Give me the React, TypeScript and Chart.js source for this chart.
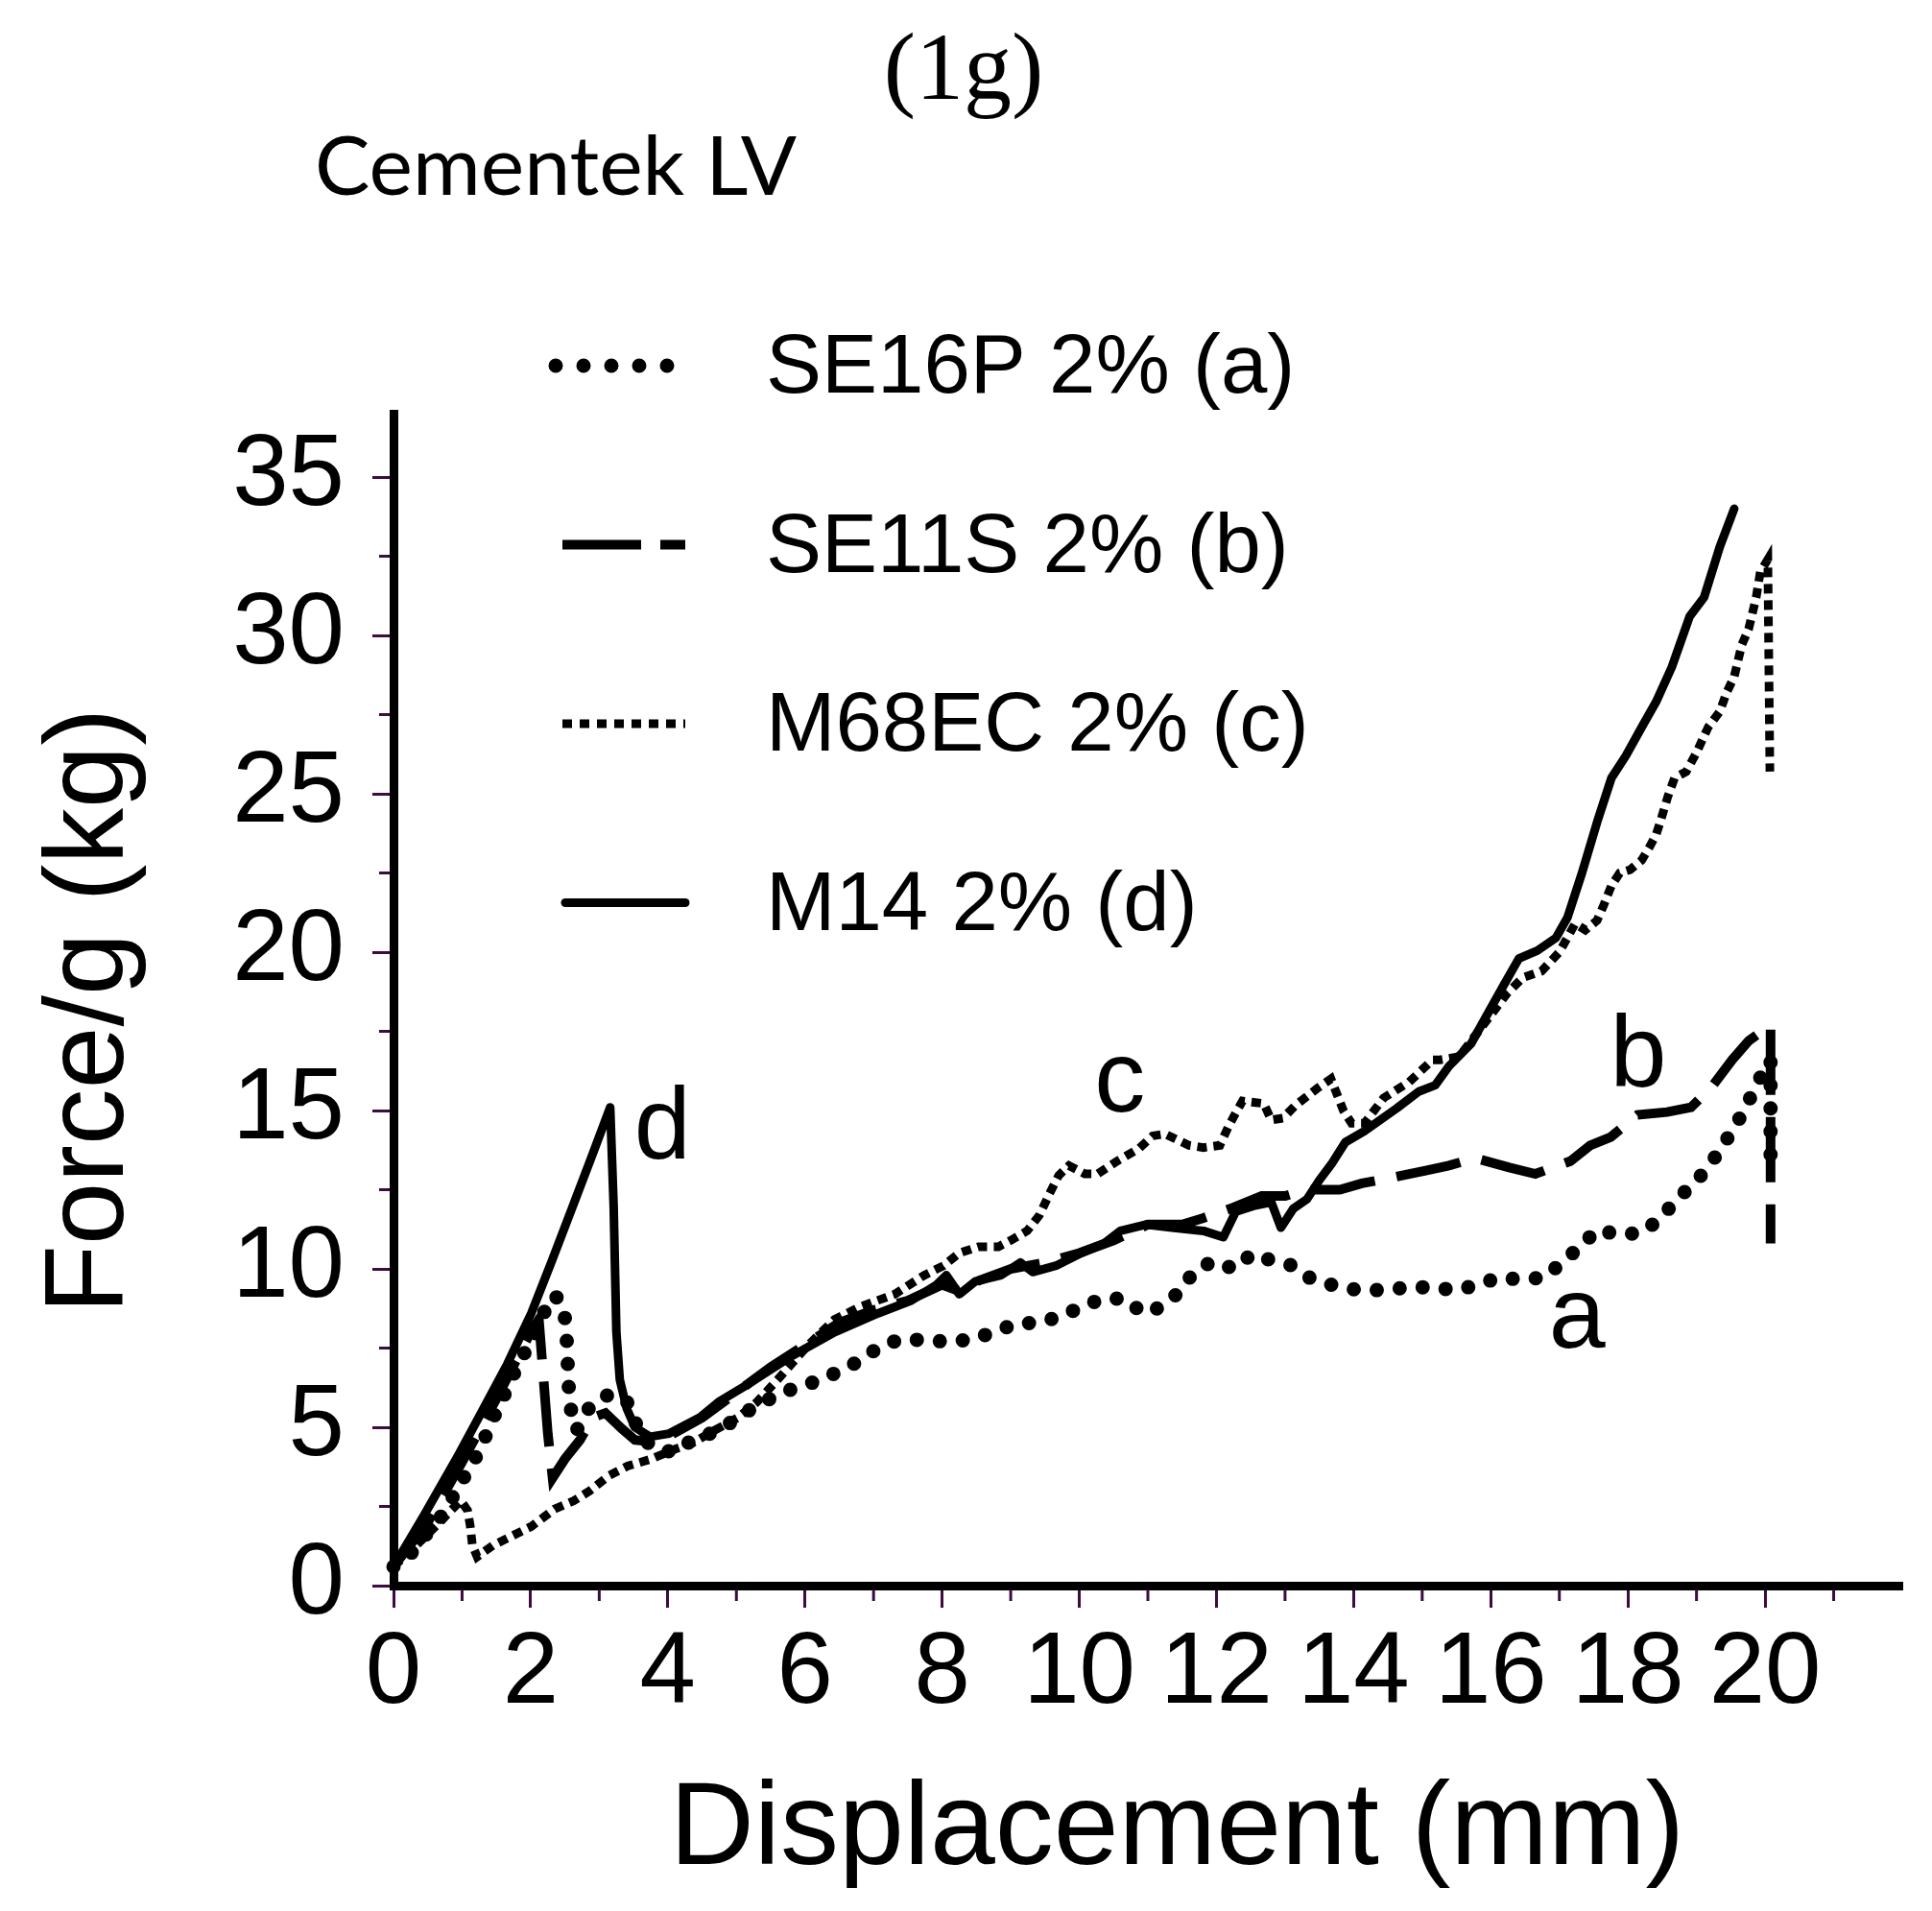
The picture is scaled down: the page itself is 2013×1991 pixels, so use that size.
import { useEffect, useRef } from "react"
import { Chart, registerables } from "chart.js"
import type { Plugin } from "chart.js"

Chart.register(...registerables)

// SE16P 2% (a) - round dots
const se16pX = [0, 0.25, 0.47, 0.7, 0.89, 1.05, 1.24, 1.38, 1.52, 1.69, 1.83, 2.07, 2.15, 2.35, 2.48, 2.52, 2.55, 2.57, 2.67, 2.85, 3.09, 3.3, 3.45, 3.56, 3.75, 4.08, 4.36, 4.68, 4.96, 5.23, 5.53, 5.86, 6.19, 6.5, 6.8, 7.06, 7.36, 7.71, 8.06, 8.41, 8.75, 9.07, 9.4, 9.73, 10.03, 10.34, 10.66, 10.93, 11.2, 11.49, 11.67, 11.95, 12.26, 12.52, 12.8, 13.12, 13.39, 13.71, 14.06, 14.44, 14.8, 15.15, 15.47, 15.8, 16.1, 16.43, 16.77, 17.03, 17.3, 17.55, 17.88, 18.2, 18.48, 18.71, 18.97, 19.2, 19.4, 19.59, 19.76, 19.92, 20.08, 20.08]
const se16pY = [0.6, 1.0, 1.6, 2.2, 2.9, 3.5, 4.2, 4.9, 5.6, 6.35, 7.07, 7.9, 8.46, 9.18, 8.8, 8.06, 6.5, 5.7, 4.9, 5.6, 6.0, 6.0, 5.7, 4.95, 4.4, 4.2, 4.6, 4.85, 5.2, 5.6, 5.95, 6.25, 6.46, 6.77, 7.1, 7.5, 7.76, 7.76, 7.7, 7.76, 8.0, 8.27, 8.3, 8.5, 8.8, 9.06, 9.06, 8.6, 8.8, 9.33, 9.93, 10.24, 10.0, 10.48, 10.27, 10.1, 9.67, 9.48, 9.33, 9.33, 9.42, 9.42, 9.33, 9.48, 9.72, 9.67, 9.72, 10.18, 10.7, 11.23, 11.08, 11.14, 11.6, 12.2, 12.7, 13.3, 13.95, 14.6, 15.3, 16.0, 16.6, 13.3]

// SE11S 2% (b) - long dashes
const se11sX = [0, 0.5, 1.0, 1.5, 2.0, 2.12, 2.25, 2.32, 2.5, 2.72, 2.9, 3.09, 3.33, 3.52, 3.75, 4.0, 4.5, 5.0, 5.5, 6.0, 6.5, 7.0, 7.5, 8.0, 8.25, 8.5, 9.0, 9.5, 10.0, 10.5, 11.0, 11.5, 11.8, 12.2, 12.66, 13.0, 13.3, 13.8, 14.12, 14.6, 15.05, 15.39, 15.77, 16.27, 16.65, 17.16, 17.45, 17.75, 18.14, 18.57, 18.92, 19.23, 19.52, 19.76, 20.08, 20.08]
const se11sY = [0.6, 2.0, 3.9, 5.9, 8.0, 8.4, 4.8, 3.4, 4.0, 4.6, 5.3, 5.45, 4.95, 4.6, 4.55, 4.7, 5.3, 6.1, 6.9, 7.6, 8.3, 8.7, 9.0, 9.5, 9.3, 9.6, 10.0, 10.2, 10.5, 10.9, 11.4, 11.4, 11.6, 11.9, 12.3, 12.3, 12.5, 12.5, 12.7, 12.9, 13.1, 13.26, 13.5, 13.2, 13.0, 13.4, 13.9, 14.16, 14.86, 14.95, 15.1, 15.77, 16.6, 17.2, 17.7, 10.8]

// M68EC 2% (c) - small square dots
const m68ecX = [0, 0.33, 0.66, 0.84, 0.98, 1.08, 1.12, 1.15, 1.22, 1.45, 1.73, 2.01, 2.35, 2.63, 2.86, 3.14, 3.42, 3.75, 4.08, 4.36, 4.68, 5.02, 5.3, 5.6, 6.05, 6.43, 6.8, 7.31, 7.74, 8.02, 8.25, 8.53, 8.82, 9.0, 9.24, 9.42, 9.56, 9.7, 9.85, 10.08, 10.27, 10.55, 10.87, 11.07, 11.25, 11.6, 11.81, 12.05, 12.17, 12.28, 12.38, 12.69, 12.8, 12.97, 13.15, 13.47, 13.67, 13.76, 13.85, 13.97, 14.16, 14.44, 14.81, 15.15, 15.26, 15.54, 15.82, 16.24, 16.47, 16.74, 17.0, 17.23, 17.38, 17.55, 17.65, 17.76, 17.88, 18.03, 18.2, 18.31, 18.41, 18.47, 18.58, 18.68, 18.85, 19.0, 19.17, 19.34, 19.44, 19.55, 19.66, 19.76, 19.87, 19.93, 20.04, 20.07]
const m68ecY = [0.6, 1.27, 1.97, 2.38, 2.68, 2.38, 1.87, 1.27, 0.91, 1.27, 1.57, 1.87, 2.42, 2.68, 2.99, 3.47, 3.78, 3.99, 4.29, 4.5, 4.9, 5.3, 5.8, 6.5, 7.6, 8.4, 8.8, 9.2, 9.8, 10.1, 10.5, 10.7, 10.7, 10.9, 11.2, 11.7, 12.35, 12.95, 13.26, 13.0, 13.0, 13.4, 13.8, 14.2, 14.26, 13.9, 13.83, 13.9, 14.47, 14.92, 15.3, 15.22, 14.7, 14.76, 15.16, 15.7, 16.0, 15.5, 15.0, 14.6, 14.6, 15.4, 15.9, 16.6, 16.6, 16.7, 17.5, 18.7, 19.2, 19.4, 20.0, 20.9, 20.7, 21.0, 21.5, 22.1, 22.5, 22.6, 22.9, 23.3, 23.7, 24.1, 24.9, 25.5, 25.7, 26.3, 27.1, 27.6, 28.2, 28.7, 29.7, 30.2, 31.2, 32.0, 32.4, 25.7]

// M14 2% (d) - solid
const m14X = [0, 0.44, 0.94, 1.29, 1.66, 2.01, 2.3, 2.6, 2.9, 3.16, 3.21, 3.25, 3.3, 3.4, 3.52, 3.74, 4.02, 4.46, 4.74, 5.2, 5.77, 6.43, 7.07, 7.55, 7.92, 8.06, 8.25, 8.48, 8.86, 9.14, 9.32, 9.66, 10.03, 10.36, 10.6, 10.97, 11.35, 11.81, 12.1, 12.28, 12.56, 12.8, 12.94, 13.12, 13.32, 13.5, 13.69, 13.88, 14.16, 14.63, 14.95, 15.19, 15.39, 15.71, 15.98, 16.2, 16.41, 16.68, 16.95, 17.12, 17.33, 17.55, 17.76, 17.97, 18.2, 18.41, 18.64, 18.9, 19.11, 19.34, 19.55]
const m14Y = [0.6, 2.2, 4.1, 5.5, 7.0, 8.6, 10.2, 11.9, 13.6, 15.1, 12.0, 8.0, 6.5, 5.6, 5.0, 4.7, 4.8, 5.3, 5.8, 6.4, 7.2, 8.0, 8.6, 9.0, 9.5, 9.8, 9.2, 9.6, 9.8, 10.2, 9.9, 10.1, 10.5, 10.8, 11.2, 11.4, 11.3, 11.2, 11.0, 11.8, 12.0, 12.1, 11.3, 11.9, 12.2, 12.8, 13.35, 14.0, 14.35, 15.07, 15.6, 15.8, 16.4, 17.1, 18.15, 19.0, 19.8, 20.05, 20.45, 21.1, 22.5, 24.1, 25.5, 26.2, 27.1, 27.9, 29.0, 30.6, 31.2, 32.8, 34.0]

const seriesNames = ["SE16P 2% (a)", "SE11S 2% (b)", "M68EC 2% (c)", "M14 2% (d)"]
const curveLetters = ["a", "b", "c", "d"]
// where each letter sits, in data units (x, baseline y)
const letterX = [17.26, 18.15, 10.59, 3.92]
const letterY = [7.52, 15.77, 14.98, 13.5]

const xTickValues = [0, 2, 4, 6, 8, 10, 12, 14, 16, 18, 20]
const xMinorTicks = [1, 3, 5, 7, 9, 11, 13, 15, 17, 19, 21]
const yTickValues = [0, 5, 10, 15, 20, 25, 30, 35]
const yMinorTicks = [2.5, 7.5, 12.5, 17.5, 22.5, 27.5, 32.5]

const SANS = "'Liberation Sans', Arial, sans-serif"
const TICK_COLOR = "#3d0b3f"

const toPoints = (xs: number[], ys: number[]) => xs.map((x, i) => ({ x, y: ys[i] }))

const annotations: Plugin<"line"> = {
  id: "annotations",
  afterDraw(chart) {
    const { ctx } = chart
    const xs = chart.scales.x
    const ys = chart.scales.y
    const axisX = xs.getPixelForValue(0)
    const axisY = ys.getPixelForValue(0)
    ctx.save()

    // minor ticks
    ctx.strokeStyle = TICK_COLOR
    ctx.lineWidth = 3
    ctx.setLineDash([])
    yMinorTicks.forEach((v) => {
      const py = ys.getPixelForValue(v)
      ctx.beginPath()
      ctx.moveTo(axisX - 15, py)
      ctx.lineTo(axisX - 4, py)
      ctx.stroke()
    })
    xMinorTicks.forEach((v) => {
      const px = xs.getPixelForValue(v)
      ctx.beginPath()
      ctx.moveTo(px, axisY + 4)
      ctx.lineTo(px, axisY + 16)
      ctx.stroke()
    })

    ctx.fillStyle = "#000"

    // headings
    ctx.font = "100px 'Liberation Serif', 'Times New Roman', serif"
    ctx.textAlign = "center"
    ctx.textBaseline = "alphabetic"
    ctx.fillText("(1g)", 1004, 103)
    ctx.font = "86px Lato, 'Open Sans', sans-serif"
    ctx.textAlign = "left"
    ctx.fillText("Cementek LV", 328, 203)

    // legend
    const legendDash = [[0, 29], [82, 20], [10, 8], []]
    const legendStart = [579, 586, 586, 589]
    chart.data.datasets.forEach((ds: any, i) => {
      const base = 409 + i * 186.5
      ctx.save()
      ctx.strokeStyle = "#000"
      ctx.lineWidth = ds.borderWidth
      ctx.lineCap = ds.borderCapStyle || "butt"
      ctx.setLineDash(legendDash[i])
      ctx.beginPath()
      ctx.moveTo(legendStart[i], base - 28)
      ctx.lineTo(i === 0 ? 697 : 714, base - 28)
      ctx.stroke()
      ctx.restore()
      ctx.font = `87px ${SANS}`
      ctx.textAlign = "left"
      ctx.fillText(seriesNames[i], 798, base)
    })

    // curve letters
    ctx.font = `106px ${SANS}`
    ctx.textAlign = "center"
    curveLetters.forEach((t, i) => {
      ctx.fillText(t, xs.getPixelForValue(letterX[i]), ys.getPixelForValue(letterY[i]))
    })

    ctx.restore()
  },
}

export default function App() {
  const chartRef = useRef<HTMLCanvasElement>(null)

  useEffect(() => {
    if (!chartRef.current) return

    const chart = new Chart(chartRef.current, {
      type: "line",
      data: {
        datasets: [
          {
            label: seriesNames[0],
            data: toPoints(se16pX, se16pY),
            borderColor: "#000",
            borderWidth: 15,
            borderDash: [0, 24],
            borderCapStyle: "round",
            borderJoinStyle: "round",
          },
          {
            label: seriesNames[1],
            data: toPoints(se11sX, se11sY),
            borderColor: "#000",
            borderWidth: 10,
            borderDash: [68, 23],
            borderCapStyle: "butt",
          },
          {
            label: seriesNames[2],
            data: toPoints(m68ecX, m68ecY),
            borderColor: "#000",
            borderWidth: 9,
            borderDash: [10, 7],
            borderCapStyle: "butt",
          },
          {
            label: seriesNames[3],
            data: toPoints(m14X, m14Y),
            borderColor: "#000",
            borderWidth: 9,
            borderCapStyle: "round",
            borderJoinStyle: "round",
          },
        ],
      },
      options: {
        animation: false,
        responsive: false,
        devicePixelRatio: 1,
        clip: false,
        layout: {
          padding: { top: 431, right: 31, left: 0, bottom: 0 },
        },
        elements: {
          point: { radius: 0 },
          line: { tension: 0 },
        },
        plugins: {
          legend: { display: false },
          tooltip: { enabled: false },
        },
        scales: {
          x: {
            type: "linear",
            min: 0,
            max: 22,
            afterFit: (scale) => {
              scale.height = 339
            },
            afterBuildTicks: (scale) => {
              scale.ticks = xTickValues.map((value) => ({ value }))
            },
            ticks: {
              autoSkip: false,
              maxRotation: 0,
              color: "#000",
              padding: 7,
              font: { family: SANS, size: 105 },
            },
            grid: {
              drawOnChartArea: false,
              drawTicks: true,
              tickLength: 23,
              tickColor: TICK_COLOR,
              tickWidth: 3,
            },
            border: { display: true, color: "#000", width: 9 },
            title: {
              display: true,
              // en space nudges the centred title right, as in the original
              text: "\u2002Displacement (mm)",
              color: "#000",
              font: { family: SANS, size: 122 },
              padding: { top: 0, bottom: 9 },
            },
          },
          y: {
            type: "linear",
            min: 0,
            max: 37,
            afterFit: (scale) => {
              scale.width = 410
            },
            afterBuildTicks: (scale) => {
              scale.ticks = yTickValues.map((value) => ({ value }))
            },
            ticks: {
              autoSkip: false,
              color: "#000",
              padding: 29,
              font: { family: SANS, size: 105 },
            },
            grid: {
              drawOnChartArea: false,
              drawTicks: true,
              tickLength: 22,
              tickColor: TICK_COLOR,
              tickWidth: 3,
            },
            border: { display: true, color: "#000", width: 9 },
            title: {
              display: true,
              text: "Force/g (kg)\u2009",
              color: "#000",
              font: { family: SANS, size: 117 },
              padding: { top: 26, bottom: 0 },
            },
          },
        },
      },
      plugins: [annotations],
    })

    return () => {
      chart.destroy()
    }
  }, [])

  return (
    <div style={{ position: "absolute", left: 0, top: 0, width: 2013, height: 1991, background: "#fff" }}>
      <canvas ref={chartRef} width={2013} height={1991} style={{ display: "block" }} />
    </div>
  )
}
